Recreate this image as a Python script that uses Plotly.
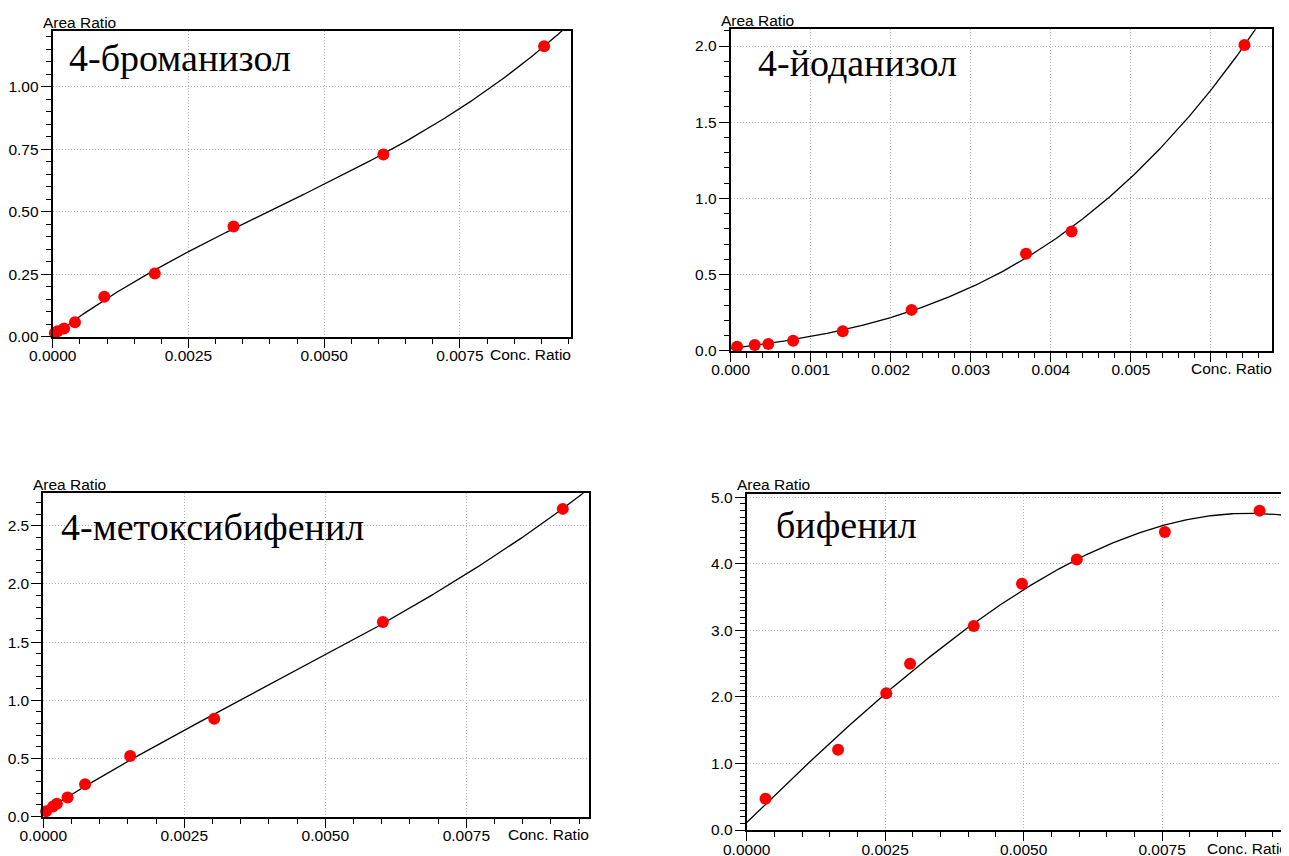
import numpy as np
import plotly.graph_objects as go

W, H = 1289, 856
OFF = 8  # default page body margin of the html page

# ---------------- data ----------------
names = ["4-броманизол", "4-йоданизол", "4-метоксибифенил", "бифенил"]

x1 = [0.00004, 0.00009, 0.00021, 0.00041, 0.00095, 0.00188, 0.00333, 0.00609, 0.00905]
y1 = [0.015, 0.022, 0.033, 0.058, 0.160, 0.253, 0.441, 0.729, 1.162]

x2 = [0.00008, 0.00030, 0.00047, 0.00078, 0.00140, 0.00226, 0.00369, 0.00426, 0.00642]
y2 = [0.026, 0.037, 0.044, 0.066, 0.127, 0.268, 0.636, 0.783, 2.007]

x3 = [0.00005, 0.00017, 0.00024, 0.00043, 0.00074, 0.00154, 0.00303, 0.00602, 0.00921]
y3 = [0.045, 0.085, 0.110, 0.163, 0.277, 0.520, 0.841, 1.673, 2.646]

x4 = [0.00034, 0.00165, 0.00252, 0.00295, 0.00410, 0.00497, 0.00596, 0.00755, 0.00926]
y4 = [0.470, 1.206, 2.055, 2.497, 3.065, 3.700, 4.065, 4.480, 4.800]

# tick values / labels
xt1 = [0, 0.0025, 0.005, 0.0075]
xl1 = ["0.0000", "0.0025", "0.0050", "0.0075"]
yt1 = [0, 0.25, 0.5, 0.75, 1.0]
yl1 = ["0.00", "0.25", "0.50", "0.75", "1.00"]

xt2 = [0, 0.001, 0.002, 0.003, 0.004, 0.005, 0.006]
xl2 = ["0.000", "0.001", "0.002", "0.003", "0.004", "0.005", ""]
yt2 = [0, 0.5, 1.0, 1.5, 2.0]
yl2 = ["0.0", "0.5", "1.0", "1.5", "2.0"]

xt3 = [0, 0.0025, 0.005, 0.0075]
xl3 = ["0.0000", "0.0025", "0.0050", "0.0075"]
yt3 = [0, 0.5, 1.0, 1.5, 2.0, 2.5]
yl3 = ["0.0", "0.5", "1.0", "1.5", "2.0", "2.5"]

xt4 = [0, 0.0025, 0.005, 0.0075]
xl4 = ["0.0000", "0.0025", "0.0050", "0.0075"]
yt4 = [0, 1, 2, 3, 4, 5]
yl4 = ["0.0", "1.0", "2.0", "3.0", "4.0", "5.0"]

# ---------------- layout geometry (page pixels) ----------------
panels = [
    dict(l=52.7, r=570.7, t=31.0, b=336.7, xmax=0.00954, ymax=1.2228, xm=0.0005, ym=0.05,
         title_x=69, title_y=58, ar_y=22.5),
    dict(l=730.7, r=1271.7, t=29.3, b=350.7, xmax=0.00676, ymax=2.11, xm=0.0002, ym=0.1,
         title_x=758, title_y=63, ar_y=20.5),
    dict(l=43.3, r=589.3, t=493.3, b=816.5, xmax=0.00968, ymax=2.78, xm=0.0005, ym=0.1,
         title_x=61, title_y=527, ar_y=484),
    dict(l=746.7, r=1287.8, t=494.0, b=830.0, xmax=0.00977, ymax=5.05, xm=0.0005, ym=0.1,
         title_x=776, title_y=525, ar_y=485),
]
xs = [x1, x2, x3, x4]
ys = [y1, y2, y3, y4]
xticks = [(xt1, xl1), (xt2, xl2), (xt3, xl3), (xt4, xl4)]
yticks = [(yt1, yl1), (yt2, yl2), (yt3, yl3), (yt4, yl4)]

TICKFONT = dict(family="Liberation Sans, Arial, sans-serif", size=15.5, color="black")
TITLEFONT = dict(family="Liberation Serif, Times New Roman, serif", size=38, color="black")

fig = go.Figure()
annotations = []

def px2fx(p):
    return (p - OFF) / W

def py2fy(p):
    return 1 - (p - OFF) / H

for i, p in enumerate(panels):
    n = "" if i == 0 else str(i + 1)
    xa, ya = "x" + n, "y" + n
    x = np.array(xs[i]); y = np.array(ys[i])
    coef = np.polyfit(x, y, 3)
    xx = np.linspace(0, p["xmax"], 400)
    fig.add_trace(go.Scatter(x=xx, y=np.polyval(coef, xx), mode="lines",
                             line=dict(color="black", width=1.3),
                             xaxis=xa, yaxis=ya, showlegend=False, hoverinfo="skip"))
    fig.add_trace(go.Scatter(x=x, y=y, mode="markers", cliponaxis=False,
                             marker=dict(color="#ff0000", size=12, line=dict(width=0)),
                             xaxis=xa, yaxis=ya, showlegend=False))

    common = dict(showline=True, linecolor="black", linewidth=2, mirror=True,
                  ticks="outside", tickcolor="black", tickwidth=1.3,
                  showgrid=True, gridcolor="#b4b4b4", griddash="1px,2px", gridwidth=1,
                  zeroline=False, tickfont=TICKFONT, fixedrange=True,
                  automargin=False)
    tv, tl = xticks[i]
    xaxis = dict(common, domain=[px2fx(p["l"]), px2fx(p["r"])], range=[0, p["xmax"]],
                 tickmode="array", tickvals=tv, ticktext=tl, ticklen=9,
                 ticklabelstandoff=-5,
                 anchor=ya,
                 minor=dict(dtick=p["xm"], tick0=0, ticks="outside", ticklen=5,
                            tickcolor="black", tickwidth=1.2, showgrid=False))
    tv, tl = yticks[i]
    yaxis = dict(common, domain=[py2fy(p["b"]), py2fy(p["t"])], range=[0, p["ymax"]],
                 tickmode="array", tickvals=tv, ticktext=tl, ticklen=10,
                 ticklabelstandoff=-1,
                 anchor=xa,
                 minor=dict(dtick=p["ym"], tick0=0, ticks="outside", ticklen=5,
                            tickcolor="black", tickwidth=1.2, showgrid=False))
    fig.layout["xaxis" + n] = xaxis
    fig.layout["yaxis" + n] = yaxis

    annotations.append(dict(text=names[i], xref="paper", yref="paper",
                            x=px2fx(p["title_x"] - 2), y=py2fy(p["title_y"]),
                            xanchor="left", yanchor="middle", showarrow=False,
                            font=TITLEFONT))
    annotations.append(dict(text="Area Ratio", xref="paper", yref="paper",
                            x=px2fx(p["l"] - 12), y=py2fy(p["ar_y"]),
                            xanchor="left", yanchor="middle", showarrow=False,
                            font=TICKFONT))
    annotations.append(dict(text="Conc. Ratio", xref="paper", yref="paper",
                            x=px2fx(p["r"] + 2), y=py2fy(p["b"] + 18),
                            xanchor="right", yanchor="middle", showarrow=False,
                            font=TICKFONT))

fig.update_layout(width=W, height=H, margin=dict(l=0, r=0, t=0, b=0, autoexpand=False),
                  paper_bgcolor="white", plot_bgcolor="white",
                  annotations=annotations, showlegend=False)

fig.write_html("out.html", config={"displayModeBar": False})
